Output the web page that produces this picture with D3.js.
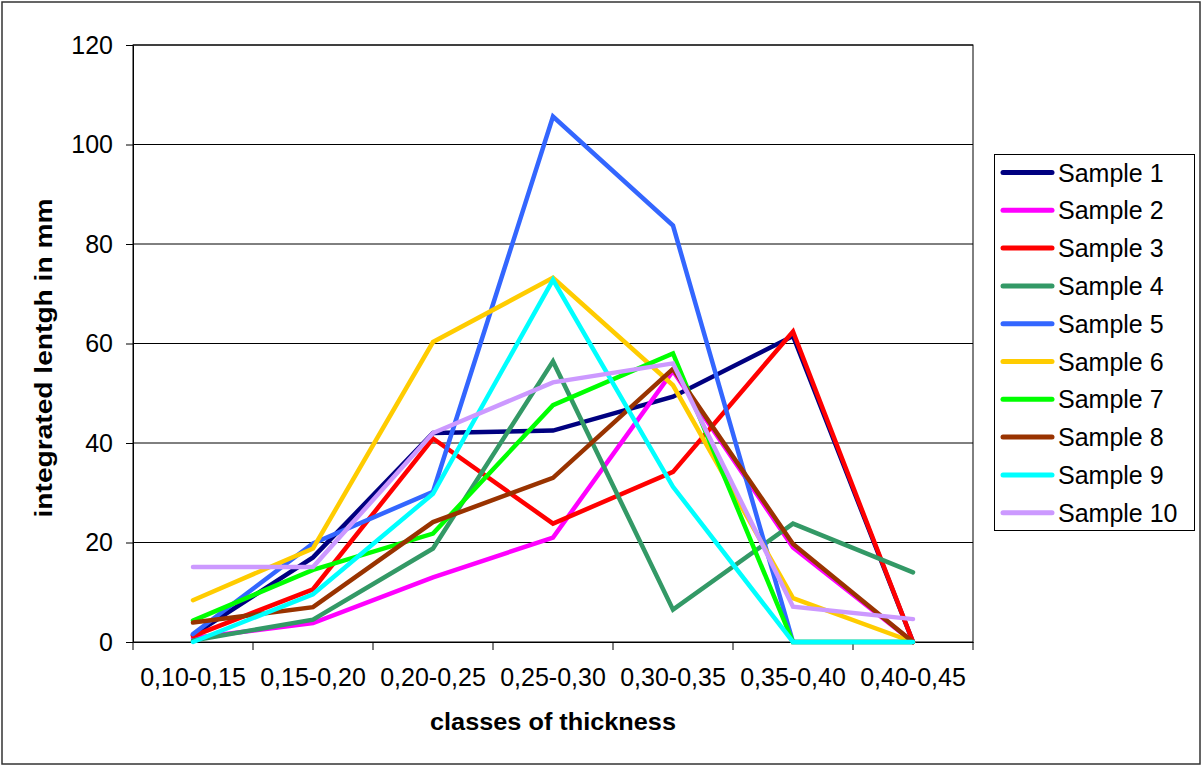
<!DOCTYPE html>
<html><head><meta charset="utf-8">
<script src="https://cdn.jsdelivr.net/npm/d3@7"></script>
<style>body{margin:0;background:#fff}svg{display:block;font-family:"Liberation Sans",Arial,sans-serif}</style>
</head><body>
<svg id="c" width="1203" height="766"></svg>
<script>
const categories = ["0,10-0,15","0,15-0,20","0,20-0,25","0,25-0,30","0,30-0,35","0,35-0,40","0,40-0,45"];
const seriesNames = ["Sample 1","Sample 2","Sample 3","Sample 4","Sample 5","Sample 6","Sample 7","Sample 8","Sample 9","Sample 10"];
const sample1 = [1.4, 17.0, 42.0, 42.5, 49.3, 61.5, 0];
const sample2 = [0.8, 3.8, 13.0, 21.0, 54.5, 19.0, 0];
const sample3 = [1.2, 10.6, 40.9, 23.8, 34.2, 62.4, 0];
const sample4 = [0.3, 4.5, 18.8, 56.4, 6.5, 23.8, 14.0];
const sample5 = [1.6, 19.8, 30.2, 105.6, 83.7, 0, 0];
const sample6 = [8.4, 18.8, 60.3, 73.2, 51.6, 8.8, 0];
const sample7 = [4.3, 14.5, 21.8, 47.6, 58.0, 0, 0];
const sample8 = [3.9, 7.0, 24.1, 33.0, 54.9, 19.7, 0];
const sample9 = [0, 9.6, 29.8, 72.8, 31.2, 0, 0];
const sample10 = [15.1, 15.1, 42.0, 52.2, 56.0, 7.1, 4.6];
const yTicks = [0, 20, 40, 60, 80, 100, 120];
const colors = ["#000080","#FF00FF","#FF0000","#339966","#3366FF","#FFCC00","#00FF00","#993300","#00FFFF","#CC99FF"];

const seriesValues = [sample1,sample2,sample3,sample4,sample5,sample6,sample7,sample8,sample9,sample10];
const series = seriesNames.map((n,i)=>({name:n, values:seriesValues[i], color:colors[i]}));

const svg = d3.select("#c");
const L=133, T=45, R=973, B=642;

svg.append("rect").attr("x",2).attr("y",2).attr("width",1198).attr("height",762)
  .attr("fill","#fff").attr("stroke","#333").attr("stroke-width",1.5);

const x = d3.scaleBand().domain(categories).range([L,R]).padding(0);
const y = d3.scaleLinear().domain([0,120]).range([B,T]);

// gridlines
svg.append("g").selectAll("line").data(yTicks.filter(d=>d>0)).join("line")
  .attr("x1",L).attr("x2",R).attr("y1",d=>y(d)).attr("y2",d=>y(d))
  .attr("stroke","#000").attr("stroke-width",1);

// plot border
svg.append("rect").attr("x",L).attr("y",T).attr("width",R-L).attr("height",B-T)
  .attr("fill","none").attr("stroke","#000").attr("stroke-width",1);

// y axis
const yAxis = svg.append("g").attr("transform",`translate(${L},0)`)
  .call(d3.axisLeft(y).tickValues(yTicks).tickSize(7).tickPadding(13).tickSizeOuter(0));
yAxis.select(".domain").attr("stroke","#000");
yAxis.selectAll(".tick line").attr("stroke","#000");
yAxis.selectAll("text").attr("font-size",25).attr("fill","#000").attr("font-family","Liberation Sans, Arial, sans-serif");

// x axis
const xAxis = svg.append("g").attr("transform",`translate(0,${B})`)
  .call(d3.axisBottom(x).tickSize(0).tickPadding(26).tickSizeOuter(0));
xAxis.select(".domain").attr("stroke","#000");
xAxis.selectAll("text").attr("font-size",25).attr("fill","#000").attr("font-family","Liberation Sans, Arial, sans-serif");
// boundary ticks between categories
const bounds = categories.map(c=>x(c)).concat([R]);
svg.append("g").selectAll("line").data(bounds).join("line")
  .attr("x1",d=>d).attr("x2",d=>d).attr("y1",B).attr("y2",B+8)
  .attr("stroke","#000").attr("stroke-width",1);

// lines
const line = d3.line().x((d,i)=>x(categories[i])+x.bandwidth()/2).y(d=>y(d));
svg.append("g").selectAll("path").data(series).join("path")
  .attr("d",d=>line(d.values)).attr("fill","none").attr("stroke",d=>d.color)
  .attr("stroke-width",4.5).attr("stroke-linejoin","miter").attr("stroke-linecap","round");

// axis titles
svg.append("text").attr("x",553).attr("y",730).attr("text-anchor","middle")
  .attr("font-weight","bold").attr("font-size",24)
  .attr("textLength",246).attr("lengthAdjust","spacingAndGlyphs").text("classes of thickness");
svg.append("text").attr("transform","translate(52,358) rotate(-90)").attr("text-anchor","middle")
  .attr("font-weight","bold").attr("font-size",24)
  .attr("textLength",319).attr("lengthAdjust","spacingAndGlyphs").text("integrated lentgh in mm");

// legend
const lg = svg.append("g");
lg.append("rect").attr("x",994.5).attr("y",154.5).attr("width",200).attr("height",376)
  .attr("fill","#fff").attr("stroke","#000").attr("stroke-width",1);
const item = lg.selectAll("g.it").data(series).join("g").attr("class","it")
  .attr("transform",(d,i)=>`translate(0,${172.5+i*37.8})`);
item.append("line").attr("x1",1003).attr("x2",1052).attr("y1",0).attr("y2",0)
  .attr("stroke",d=>d.color).attr("stroke-width",5).attr("stroke-linecap","round");
item.append("text").attr("x",1058).attr("y",9).attr("font-size",25).attr("fill","#000").text(d=>d.name);
</script>
</body></html>
